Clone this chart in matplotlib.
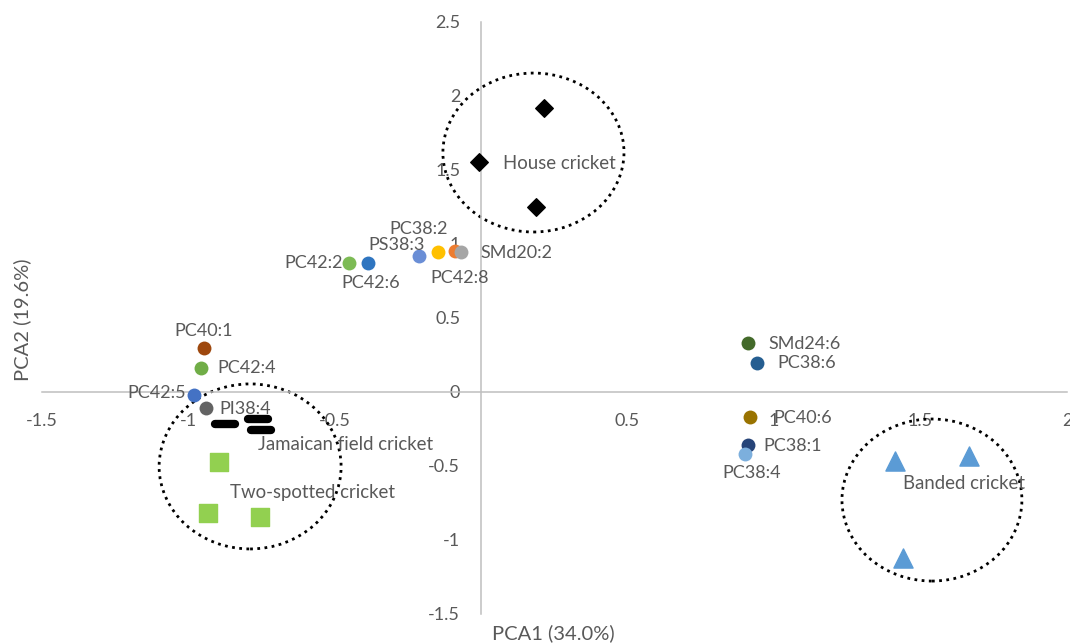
import matplotlib
matplotlib.use("Agg")
import matplotlib.pyplot as plt
from matplotlib.patches import Ellipse
from matplotlib.markers import MarkerStyle
from matplotlib.ticker import FuncFormatter

plt.rcParams['font.family'] = ['Lato', 'DejaVu Sans']

# ---- lipid loading points (single labelled circles) ----
lipid_names = ["PC40:1", "PC42:4", "PC42:5", "PI38:4", "PC42:2", "PC42:6",
               "PS38:3", "PC38:2", "PC42:8", "SMd20:2",
               "SMd24:6", "PC38:6", "PC40:6", "PC38:1", "PC38:4"]
lipid_x = [-0.945, -0.956, -0.980, -0.939, -0.451, -0.386,
           -0.212, -0.147, -0.089, -0.068,
           0.911, 0.942, 0.918, 0.911, 0.901]
lipid_y = [0.297, 0.162, -0.020, -0.108, 0.872, 0.872,
           0.919, 0.946, 0.953, 0.946,
           0.331, 0.196, -0.169, -0.358, -0.419]
lipid_colors = ["#9E480E", "#70AD47", "#4472C4", "#636363", "#7DBB55", "#2F75C0",
                "#6A8ED6", "#FFC000", "#ED7D31", "#A5A5A5",
                "#436A2A", "#255E91", "#997300", "#264478", "#7CAFDD"]
# label offsets in pixels (dx, dy) and horizontal alignment
lipid_label_dx = [0, 16, -8, 14, -6, 3, -22, -19, 5, 19, 20, 20, 23, 15, 7]
lipid_label_dy = [17, 0, 2, -1, 0, -20, 11, 23, -27, -1, -1, 0, -1, -1, -19]
lipid_label_ha = ["center", "left", "right", "left", "right", "center",
                  "center", "center", "center", "left",
                  "left", "left", "left", "left", "center"]

# ---- cricket species samples ----
house_x = [0.215, -0.007, 0.188]
house_y = [1.919, 1.554, 1.250]
jamaican_x = [-0.874, -0.761, -0.751]
jamaican_y = [-0.216, -0.182, -0.257]
twospot_x = [-0.894, -0.932, -0.754]
twospot_y = [-0.473, -0.818, -0.845]
banded_x = [1.413, 1.666, 1.440]
banded_y = [-0.466, -0.432, -1.122]

group_names = ["House cricket", "Jamaican field cricket", "Two-spotted cricket", "Banded cricket"]
group_label_x = [0.075, -0.761, -0.857, 1.440]
group_label_y = [1.547, -0.358, -0.676, -0.615]

# dotted ellipses (center x, center y, width, height)
ell_cx = [0.179, -0.788, 1.539]
ell_cy = [1.618, -0.503, -0.730]
ell_w = [0.618, 0.621, 0.614]
ell_h = [1.074, 1.115, 1.095]

x_ticks = [-1.5, -1, -0.5, 0, 0.5, 1, 1.5, 2]
y_ticks = [-1.5, -1, -0.5, 0, 0.5, 1, 1.5, 2, 2.5]

TXT = "#595959"
AXC = "#BFBFBF"
FS = 13
GFS = 13.4

fig = plt.figure(figsize=(10.70, 6.43), dpi=100)
ax = fig.add_axes([41.5 / 1070, 1 - 614 / 643, (1067 - 41.5) / 1070, 592 / 643])
ax.set_xlim(-1.5, 2)
ax.set_ylim(-1.5, 2.5)

for s in ["top", "right"]:
    ax.spines[s].set_visible(False)
ax.spines["left"].set_position(("data", 0))
ax.spines["bottom"].set_position(("data", 0))
for s in ["left", "bottom"]:
    ax.spines[s].set_color(AXC)
    ax.spines[s].set_linewidth(1.1)
ax.set_xticks(x_ticks)
ax.set_yticks(y_ticks)

def fmt(v):
    return ("%g" % v)

ax.xaxis.set_major_formatter(FuncFormatter(lambda v, p: "" if abs(v) < 1e-9 else fmt(v)))
ax.yaxis.set_major_formatter(FuncFormatter(lambda v, p: fmt(v)))
ax.tick_params(axis="both", length=0, labelsize=FS, labelcolor=TXT)
ax.tick_params(axis="y", pad=15)
ax.tick_params(axis="x", pad=15)

# ellipses
for cx, cy, w, h in zip(ell_cx, ell_cy, ell_w, ell_h):
    ax.add_patch(Ellipse((cx, cy), w, h, fill=False, edgecolor="black",
                         linestyle=(0, (1, 1.6)), linewidth=2.0, zorder=2))

# group markers
ax.scatter(house_x, house_y, marker="D", s=80, color="black", zorder=3)
dash = MarkerStyle("_", capstyle="round")
ax.plot(jamaican_x, jamaican_y, linestyle="none", marker=dash, markersize=14,
        markeredgewidth=6, color="black", zorder=3)
ax.scatter(twospot_x, twospot_y, marker="s", s=150, color="#92D050", zorder=3)
ax.scatter(banded_x, banded_y, marker="^", s=190, color="#5B9BD5", zorder=3)

for name, gx, gy in zip(group_names, group_label_x, group_label_y):
    ax.text(gx, gy, name, ha="left", va="center", fontsize=GFS, color=TXT, zorder=4)

# lipid points
for name, x, y, c, dx, dy, ha in zip(lipid_names, lipid_x, lipid_y, lipid_colors,
                                     lipid_label_dx, lipid_label_dy, lipid_label_ha):
    ax.scatter([x], [y], s=100, color=c, zorder=5, linewidths=0)
    ax.annotate(name, (x, y), xytext=(dx, dy), textcoords="offset pixels",
                ha=ha, va="center", fontsize=FS, color=TXT, zorder=6)

ax.set_xlabel("PCA1 (34.0%)", fontsize=14.5, color=TXT)
ax.set_ylabel("PCA2 (19.6%)", fontsize=14.5, color=TXT)
ax.xaxis.set_label_coords((553 - 41.5) / 1025.5, (614 - 633) / 592)
ax.yaxis.set_label_coords((22 - 41.5) / 1025.5, (614 - 320) / 592)
ax.xaxis.label.set_va("center")
ax.yaxis.label.set_va("center")

fig.savefig("out.png", dpi=100)
